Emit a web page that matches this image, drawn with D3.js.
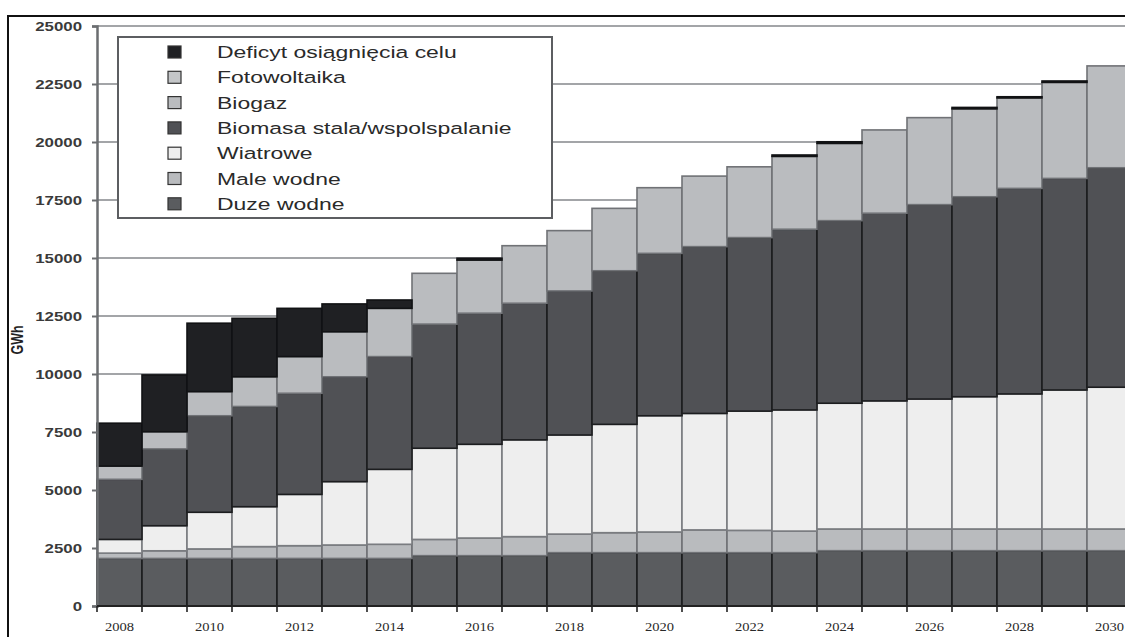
<!DOCTYPE html>
<html>
<head>
<meta charset="utf-8">
<script src="https://cdn.jsdelivr.net/npm/d3@7"></script>
<style>
  body { margin: 0; background: #fff; }
  svg { display: block; }
</style>
</head>
<body>
<svg id="chart"></svg>
<script>
const w = 1125;
const h = 637;

const years = [2008, 2009, 2010, 2011, 2012, 2013, 2014, 2015, 2016, 2017, 2018, 2019,
  2020, 2021, 2022, 2023, 2024, 2025, 2026, 2027, 2028, 2029, 2030];

// GWh
const duzeWodne = [2050, 2050, 2050, 2050, 2050, 2050, 2050, 2170, 2170, 2170, 2300, 2300,
  2300, 2300, 2300, 2300, 2385, 2385, 2385, 2385, 2385, 2385, 2385];
const maleWodne = [230, 330, 410, 510, 550, 580, 610, 700, 760, 820, 800, 860,
  890, 980, 960, 930, 935, 935, 935, 935, 935, 935, 935];
const wiatrowe = [590, 1080, 1580, 1720, 2210, 2730, 3230, 3930, 4040, 4170, 4270, 4670,
  5010, 5020, 5140, 5220, 5420, 5520, 5600, 5700, 5820, 5990, 6110];
const biomasa = [2590, 3310, 4160, 4320, 4360, 4520, 4860, 5350, 5650, 5890, 6210, 6620,
  7000, 7190, 7480, 7790, 7870, 8090, 8380, 8620, 8860, 9120, 9460];
const biogaz = [570, 740, 1040, 1280, 1580, 1940, 2080, 2190, 2290, 2480, 2600, 2690,
  2830, 3040, 3050, 3140, 3330, 3590, 3750, 3790, 3900, 4140, 4390];
const fotowoltaika = [0, 0, 0, 0, 0, 0, 0, 0, 0, 0, 0, 0,
  0, 0, 0, 0, 0, 0, 0, 0, 0, 0, 0];
const deficyt = [1850, 2450, 2950, 2520, 2080, 1200, 360, 0, 80, 0, 0, 0,
  0, 0, 0, 60, 70, 0, 0, 60, 50, 60, 0];

const yTicks = [0, 2500, 5000, 7500, 10000, 12500, 15000, 17500, 20000, 22500, 25000];
const xLabels = [2008, 2010, 2012, 2014, 2016, 2018, 2020, 2022, 2024, 2026, 2028, 2030];

const series = [
  { key: 'duze', name: 'Duze wodne', values: duzeWodne, fill: '#5a5c5f', stroke: '#1c1d1f' },
  { key: 'male', name: 'Male wodne', values: maleWodne, fill: '#b9bbbe', stroke: '#707276' },
  { key: 'wiatr', name: 'Wiatrowe', values: wiatrowe, fill: '#eeeeee', stroke: '#7a7c80' },
  { key: 'biomasa', name: 'Biomasa stala/wspolspalanie', values: biomasa, fill: '#505155', stroke: '#1c1d1f' },
  { key: 'biogaz', name: 'Biogaz', values: biogaz, fill: '#babcbf', stroke: '#707276' },
  { key: 'pv', name: 'Fotowoltaika', values: fotowoltaika, fill: '#c4c6c8', stroke: '#707276' },
  { key: 'deficyt', name: 'Deficyt osiągnięcia celu', values: deficyt, fill: '#1f2023', stroke: '#111214' },
];

const table = years.map((yr, i) => {
  const row = { year: yr };
  series.forEach((s) => { row[s.key] = s.values[i]; });
  return row;
});

// the source picture is stretched sideways, so text gets widened too
const stretch = 1.35;

const x = d3.scaleBand().domain(years).range([97, 1132]).padding(0);
const y = d3.scaleLinear().domain([0, 25000]).range([606, 26]);

const svg = d3.select('#chart').attr('width', w).attr('height', h);

// frame
svg.append('rect')
  .attr('x', 8).attr('y', 16)
  .attr('width', w + 20).attr('height', h + 20)
  .attr('fill', 'none').attr('stroke', '#111').attr('stroke-width', 2);

// grid
svg.append('g')
  .selectAll('line')
  .data(yTicks.filter((d) => d > 0))
  .enter()
  .append('line')
  .attr('x1', 97).attr('x2', w)
  .attr('y1', (d) => y(d)).attr('y2', (d) => y(d))
  .attr('stroke', '#a3a5a8').attr('stroke-width', 2);

// bars
const stacked = d3.stack().keys(series.map((s) => s.key))(table);

svg.append('g')
  .selectAll('g')
  .data(stacked)
  .enter()
  .append('g')
  .attr('fill', (d, i) => series[i].fill)
  .attr('stroke', (d, i) => series[i].stroke)
  .attr('stroke-width', 1.6)
  .selectAll('rect')
  .data((d) => d.filter((p) => p[1] - p[0] > 0))
  .enter()
  .append('rect')
  .attr('x', (d) => x(d.data.year))
  .attr('width', x.bandwidth())
  .attr('y', (d) => y(d[1]))
  .attr('height', (d) => y(d[0]) - y(d[1]));

// y axis
const yAxis = svg.append('g')
  .attr('transform', 'translate(97,0)')
  .call(d3.axisLeft(y).tickValues(yTicks).tickSize(5).tickFormat(d3.format('d')));
yAxis.select('.domain').attr('stroke', '#6b6d70').attr('stroke-width', 2.5);
yAxis.selectAll('.tick line').attr('stroke', '#6b6d70').attr('stroke-width', 2);
yAxis.selectAll('.tick text')
  .attr('x', -15 / stretch)
  .attr('transform', 'scale(' + stretch + ',1)')
  .attr('fill', '#3a3a3a')
  .style('font-family', 'Liberation Sans, Arial, sans-serif')
  .style('font-size', '12.5px')
  .style('font-weight', 'bold');

// x baseline and ticks
svg.append('line')
  .attr('x1', 97).attr('x2', w)
  .attr('y1', y(0)).attr('y2', y(0))
  .attr('stroke', '#222').attr('stroke-width', 2);

svg.append('g')
  .selectAll('line')
  .data(years)
  .enter()
  .append('line')
  .attr('x1', (d) => x(d)).attr('x2', (d) => x(d))
  .attr('y1', y(0)).attr('y2', y(0) + 6)
  .attr('stroke', '#222').attr('stroke-width', 1.6);

svg.append('g')
  .selectAll('text')
  .data(xLabels)
  .enter()
  .append('text')
  .attr('transform', (d) => 'translate(' + (x(d) + x.bandwidth() / 2) + ',631) scale(1.12,1)')
  .attr('text-anchor', 'middle')
  .attr('fill', '#2a2a2a')
  .style('font-family', 'Liberation Serif, Times New Roman, serif')
  .style('font-size', '13px')
  .text((d) => d);

// y title
svg.append('text')
  .attr('transform', 'translate(23,340) rotate(-90) scale(1,' + stretch + ')')
  .attr('text-anchor', 'middle')
  .attr('fill', '#222')
  .style('font-family', 'Liberation Sans, Arial, sans-serif')
  .style('font-size', '12.5px')
  .style('font-weight', 'bold')
  .text('GWh');

// legend
const legend = svg.append('g');
legend.append('rect')
  .attr('x', 118).attr('y', 37)
  .attr('width', 434).attr('height', 181)
  .attr('fill', '#fff').attr('stroke', '#5c5e61').attr('stroke-width', 2);

const legendItems = series.slice().reverse();
const item = legend.selectAll('g.item')
  .data(legendItems)
  .enter()
  .append('g')
  .attr('class', 'item')
  .attr('transform', (d, i) => 'translate(0,' + (52 + i * 25.3) + ')');

item.append('rect')
  .attr('x', 168).attr('y', -6)
  .attr('width', 13).attr('height', 12)
  .attr('fill', (d) => d.fill)
  .attr('stroke', '#333').attr('stroke-width', 1.2);

item.append('text')
  .attr('transform', 'translate(217,6) scale(' + stretch + ',1)')
  .attr('fill', '#2a2a2a')
  .style('font-family', 'Liberation Sans, Arial, sans-serif')
  .style('font-size', '17px')
  .text((d) => d.name);
</script>
</body>
</html>
